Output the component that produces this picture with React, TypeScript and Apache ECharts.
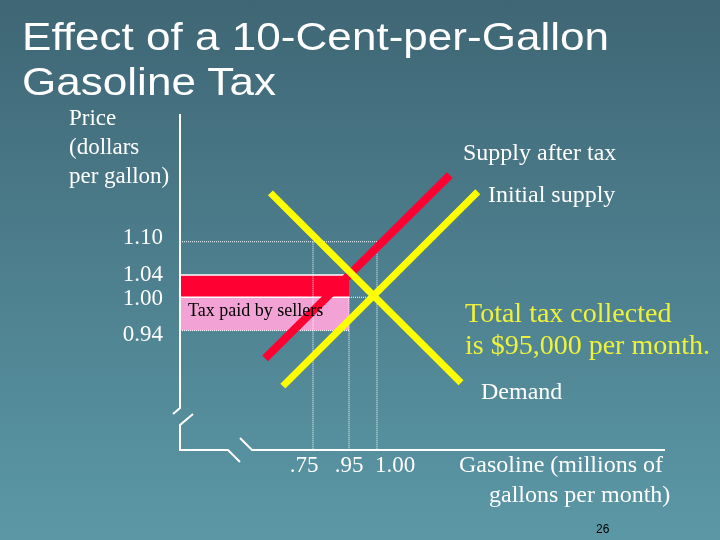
import React, { useEffect, useRef } from "react";
import * as echarts from "echarts";

// ---------- data ----------
const quantityTicks = [0.75, 0.95, 1.0];
const quantityTickLabels = [".75", ".95", "1.00"];
const priceTicks = [1.1, 1.04, 1.0, 0.94];

// curves: [quantity (millions of gallons), price ($/gallon)]
const demand = [
  [0.51, 1.188],
  [1.15, 0.846],
];
const initialSupply = [
  [0.58, 0.84],
  [1.18, 1.19],
];
const supplyAfterTax = [
  [0.48, 0.89],
  [1.13, 1.22],
];

// tax wedge: [qFrom, qTo, priceTop, priceBottom]
const taxBands = [
  [0, 0.95, 1.04, 1.0],
  [0, 0.95, 1.0, 0.94],
];

// ---------- layout / styles ----------
const GRID = { left: 180, top: 114, width: 485, height: 336 };
const P_MIN = 0.725;
const P_MAX = 1.33;
// schematic (not to scale) quantity axis: knots -> distance from the price axis
const Q_KNOTS = [0, 0.75, 0.95, 1.0];
const Q_KNOT_POS = [0, 133, 169, 197];
const BAND_COLORS = ["#FF0033", "#F2A2D4"];
const SERIF = "Liberation Serif";
const SANS = "Liberation Sans";
// per-label nudges of the price tick labels (padding [top,right,bottom,left])
const PRICE_LABEL_PAD = [
  [0, 0, 10, 0],
  [0, 0, 4, 0],
  [0, 0, 0, 0],
  [5, 0, 0, 0],
];

function qToAxis(q: number): number {
  const n = Q_KNOTS.length;
  let i = 0;
  if (q <= Q_KNOTS[1]) i = 0;
  else if (q >= Q_KNOTS[n - 2]) i = n - 2;
  else {
    for (let k = 0; k < n - 1; k++) {
      if (q >= Q_KNOTS[k] && q <= Q_KNOTS[k + 1]) {
        i = k;
        break;
      }
    }
  }
  const x0 = Q_KNOTS[i], x1 = Q_KNOTS[i + 1];
  const p0 = Q_KNOT_POS[i], p1 = Q_KNOT_POS[i + 1];
  return p0 + ((q - x0) * (p1 - p0)) / (x1 - x0);
}

const toXY = (pts: number[][]) => pts.map(([q, p]) => [qToAxis(q), p]);

function segment(name: string, pts: number[][], style: any, z = 2) {
  return {
    type: "line",
    name,
    data: toXY(pts),
    showSymbol: false,
    symbol: "none",
    silent: true,
    z,
    lineStyle: style,
  };
}

export default function App() {
  const ref = useRef<HTMLDivElement>(null);

  useEffect(() => {
    if (!ref.current) return;
    const chart = echarts.init(ref.current, null, { renderer: "svg" });

    const dotted = { color: "#ffffff", width: 1, type: "dotted" };
    const solidThin = { color: "#ffffff", width: 1.5, type: "solid" };
    const [qLo, qMid, qHi] = quantityTicks;
    const [pHi, pBuy, pEq, pSell] = priceTicks;

    const tickPos = quantityTicks.map(qToAxis);

    const gx = GRID.left;
    const gyT = GRID.top;
    const gyB = GRID.top + GRID.height;
    const gxR = GRID.left + GRID.width;
    const axisStroke = { stroke: "#ffffff", lineWidth: 2, fill: "none" };

    const whiteText = (text: string, x: number, y: number, size: number, extra: any = {}) => ({
      type: "text",
      x,
      y,
      silent: true,
      z: 50,
      style: {
        text,
        fill: "#ffffff",
        fontSize: size,
        fontFamily: SERIF,
        textAlign: "left",
        textVerticalAlign: "middle",
        verticalAlign: "middle",
        ...extra,
      },
    });

    const priceRich: any = {};
    PRICE_LABEL_PAD.forEach((pad, i) => {
      priceRich["p" + i] = {
        padding: pad,
        color: "#ffffff",
        fontSize: 23,
        fontFamily: SERIF,
        lineHeight: 20,
      };
    });

    const option: any = {
      animation: false,
      grid: { ...GRID, containLabel: false },
      xAxis: {
        type: "value",
        min: 0,
        max: GRID.width,
        axisLine: { show: false },
        axisTick: { show: false },
        splitLine: { show: false },
        axisLabel: {
          customValues: tickPos,
          margin: 3,
          color: "#ffffff",
          fontSize: 23,
          fontFamily: SERIF,
          formatter: (v: number) => {
            const i = tickPos.findIndex((p) => Math.abs(p - v) < 0.5);
            return i < 0 ? "" : `{s${i}|${quantityTickLabels[i]}}`;
          },
          rich: {
            s0: { padding: [0, 18, 0, 0], color: "#ffffff", fontSize: 23, fontFamily: SERIF },
            s1: { color: "#ffffff", fontSize: 23, fontFamily: SERIF },
            s2: { padding: [0, 0, 0, 36], color: "#ffffff", fontSize: 23, fontFamily: SERIF },
          },
        },
      },
      yAxis: {
        type: "value",
        min: P_MIN,
        max: P_MAX,
        axisLine: { show: false },
        axisTick: { show: false },
        splitLine: { show: false },
        axisLabel: {
          customValues: priceTicks,
          margin: 17,
          color: "#ffffff",
          fontSize: 23,
          lineHeight: 20,
          fontFamily: SERIF,
          formatter: (v: number) => {
            const i = priceTicks.findIndex((p) => Math.abs(p - v) < 1e-6);
            return i < 0 ? "" : `{p${i}|${v.toFixed(2)}}`;
          },
          rich: priceRich,
        },
      },
      series: [
        {
          type: "custom",
          name: "Tax wedge",
          silent: true,
          z: 1,
          data: taxBands.map(([q0, q1, t, b]) => [qToAxis(q0), qToAxis(q1), t, b]),
          renderItem: (params: any, api: any) => {
            const a = api.coord([api.value(0), api.value(2)]);
            const b = api.coord([api.value(1), api.value(3)]);
            return {
              type: "rect",
              shape: { x: a[0], y: a[1], width: b[0] - a[0], height: b[1] - a[1] },
              style: { fill: BAND_COLORS[params.dataIndex] },
            };
          },
        },
        segment("g1", [[0, pHi], [qHi, pHi]], dotted),
        segment("g2", [[qLo, pHi], [qLo, P_MIN]], dotted),
        segment("g3", [[qHi, pHi], [qHi, P_MIN]], dotted),
        segment("g4", [[qMid, pEq], [qMid, P_MIN]], dotted),
        segment("g5", [[qMid, pEq], [qHi, pEq]], dotted),
        segment("g6", [[0, pSell], [qMid, pSell]], dotted),
        segment("g7", [[0, pBuy], [qMid, pBuy]], solidThin),
        segment("g8", [[0, pEq], [qMid, pEq]], solidThin),
        segment("Supply after tax", supplyAfterTax, { color: "#FF0033", width: 8, cap: "butt" }, 5),
        segment("Demand", demand, { color: "#FFFF00", width: 7, cap: "butt" }, 6),
        segment("Initial supply", initialSupply, { color: "#FFFF00", width: 7, cap: "butt" }, 6),
      ],
      graphic: [
        {
          type: "rect",
          z: -100,
          silent: true,
          shape: { x: 0, y: 0, width: 720, height: 540 },
          style: {
            fill: new echarts.graphic.LinearGradient(0, 0, 0, 1, [
              { offset: 0, color: "#3F6675" },
              { offset: 1, color: "#5B98A6" },
            ]),
          },
        },
        // broken axes
        {
          type: "polyline",
          silent: true,
          z: 40,
          shape: { points: [[gx, gyT], [gx, gyB - 42], [gx - 7, gyB - 36]] },
          style: axisStroke,
        },
        {
          type: "polyline",
          silent: true,
          z: 40,
          shape: {
            points: [[gx + 13, gyB - 36], [gx, gyB - 25], [gx, gyB], [gx + 48, gyB], [gx + 60, gyB + 12]],
          },
          style: axisStroke,
        },
        {
          type: "polyline",
          silent: true,
          z: 40,
          shape: { points: [[gx + 60, gyB - 12], [gx + 72, gyB], [gxR, gyB]] },
          style: axisStroke,
        },
        // title
        {
          type: "text",
          x: 22,
          y: 36,
          scaleX: 1.13,
          silent: true,
          style: {
            text: "Effect of a 10-Cent-per-Gallon",
            fill: "#ffffff",
            fontSize: 39,
            fontFamily: SANS,
            textAlign: "left",
            textVerticalAlign: "middle",
            verticalAlign: "middle",
          },
        },
        {
          type: "text",
          x: 22,
          y: 81,
          scaleX: 1.13,
          silent: true,
          style: {
            text: "Gasoline Tax",
            fill: "#ffffff",
            fontSize: 39,
            fontFamily: SANS,
            textAlign: "left",
            textVerticalAlign: "middle",
            verticalAlign: "middle",
          },
        },
        whiteText("Price", 69, 117, 23),
        whiteText("(dollars", 69, 146, 23),
        whiteText("per gallon)", 69, 175, 23),
        whiteText("Supply after tax", 463, 152, 24),
        whiteText("Initial supply", 488, 194, 24),
        whiteText("Total tax collected", 465, 312, 28, { fill: "#F0F23A" }),
        whiteText("is $95,000 per month.", 465, 344, 28, { fill: "#F0F23A" }),
        whiteText("Demand", 481, 391, 24),
        whiteText("Gasoline (millions of", 459, 464, 24),
        whiteText("gallons per month)", 489, 494, 24),
        whiteText("Tax paid by sellers", 188, 310, 18, { fill: "#000000" }),
        {
          type: "text",
          x: 596,
          y: 529,
          silent: true,
          style: {
            text: "26",
            fill: "#000000",
            fontSize: 12,
            fontFamily: SANS,
            textAlign: "left",
            textVerticalAlign: "middle",
            verticalAlign: "middle",
          },
        },
      ],
    };

    chart.setOption(option);
    return () => chart.dispose();
  }, []);

  return (
    <div
      ref={ref}
      style={{ position: "fixed", left: 0, top: 0, width: 720, height: 540 }}
    />
  );
}
